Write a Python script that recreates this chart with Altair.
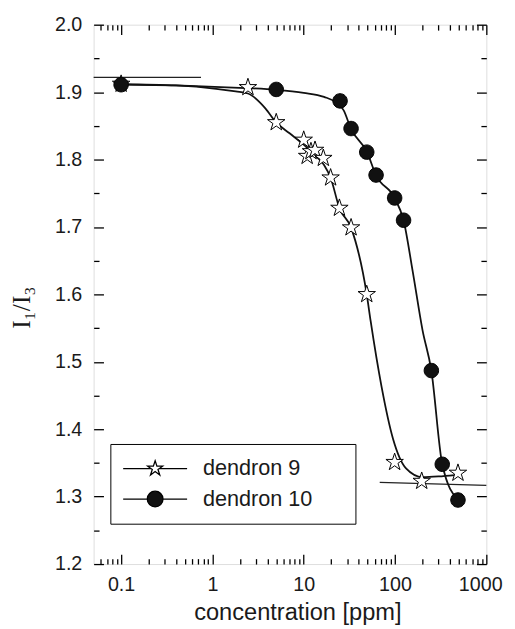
import altair as alt
import pandas as pd

# ---------------- data ----------------
SERIES = ["dendron 9", "dendron 10"]

# dendron 9 (open stars)
d9_conc = [0.1, 2.45, 5, 10, 10.9, 12, 13.3, 16.4, 19.7, 24.6, 33, 49, 99, 196, 489]
d9_ratio = [1.912, 1.907, 1.855, 1.829, 1.805, 1.812, 1.814, 1.802, 1.773, 1.728, 1.699, 1.600, 1.351, 1.323, 1.335]

# dendron 10 (filled circles)
d10_conc = [0.1, 5, 25, 33, 49, 62, 99, 124, 250, 329, 489]
d10_ratio = [1.911, 1.904, 1.887, 1.846, 1.811, 1.777, 1.743, 1.710, 1.487, 1.348, 1.295]

# fitted curves
c9_conc = [0.1, 0.4, 1.1, 1.8, 2.45, 3.8, 5, 7, 10, 13, 16.7, 19.7, 24.6, 33, 49, 54, 71, 95, 132, 200, 300, 450]
c9_ratio = [1.912, 1.910, 1.905, 1.901, 1.898, 1.876, 1.855, 1.839, 1.822, 1.807, 1.792, 1.773, 1.728, 1.699, 1.600,
            1.561, 1.464, 1.386, 1.342, 1.329, 1.330, 1.332]
c10_conc = [0.1, 0.66, 2.3, 5, 10, 16.7, 23, 27.4, 32.9, 49.4, 61.8, 99, 124, 156, 200, 250, 329, 489]
c10_ratio = [1.911, 1.909, 1.906, 1.9035, 1.899, 1.893, 1.884, 1.873, 1.8455, 1.811, 1.777, 1.743, 1.710, 1.6345,
             1.547, 1.487, 1.348, 1.295]

# horizontal tangent lines
tan_conc = [0.05, 0.75, 68, 1000]
tan_ratio = [1.922, 1.922, 1.3212, 1.3168]
tan_seg = ["top", "top", "bottom", "bottom"]

# axis ticks
Y_MAJOR = [1.2, 1.3, 1.4, 1.5, 1.6, 1.7, 1.8, 1.9, 2.0]
Y_ALL = [1.2, 1.25, 1.3, 1.35, 1.4, 1.45, 1.5, 1.55, 1.6, 1.65, 1.7, 1.75, 1.8, 1.85, 1.9, 1.95, 2.0]
X_MAJOR = [0.1, 1, 10, 100, 1000]
X_ALL = [0.06, 0.07, 0.08, 0.09, 0.1, 0.2, 0.3, 0.4, 0.5, 0.6, 0.7, 0.8, 0.9,
         1, 2, 3, 4, 5, 6, 7, 8, 9, 10, 20, 30, 40, 50, 60, 70, 80, 90,
         100, 200, 300, 400, 500, 600, 700, 800, 900, 1000]

# ---------------- tables ----------------
pts_df = pd.DataFrame({
    "conc": d9_conc + d10_conc,
    "ratio": d9_ratio + d10_ratio,
    "series": [SERIES[0]] * len(d9_conc) + [SERIES[1]] * len(d10_conc),
})
curve_df = pd.DataFrame({
    "conc": c9_conc + c10_conc,
    "ratio": c9_ratio + c10_ratio,
    "series": [SERIES[0]] * len(c9_conc) + [SERIES[1]] * len(c10_conc),
})
tan_df = pd.DataFrame({"conc": tan_conc, "ratio": tan_ratio, "seg": tan_seg})

# ---------------- styling ----------------
W, H = 399, 548
SANS = "Liberation Sans, Arial, Helvetica, sans-serif"
SERIF = "Liberation Serif, Times New Roman, serif"
INK = "#1a1a1a"

STAR = ("M0,-1L0.2245,-0.309L0.951,-0.309L0.3633,0.118L0.5878,0.809L0,0.382"
        "L-0.5878,0.809L-0.3633,0.118L-0.951,-0.309L-0.2245,-0.309Z")
CIRC = "M1,0A1,1,0,1,1,-1,0A1,1,0,1,1,1,0Z"
LEG_STAR = "M-4.06,0L-0.53,0M0.53,0L4.06,0" + STAR
LEG_CIRC = "M-4.06,0L-1,0M1,0L4.06,0" + CIRC

xs = alt.Scale(type="log", domain=[0.05, 1000], nice=False)
ys = alt.Scale(domain=[1.2, 2.0], nice=False, zero=False)

Y_MAJOR_TEST = "abs(datum.value*10 - round(datum.value*10)) < 0.001"
X_MAJOR_TEST = "abs(log(datum.value)/LN10 - round(log(datum.value)/LN10)) < 0.001"


def inward(orient, offset, values, test):
    return alt.Axis(orient=orient, offset=offset, values=values, labels=False, domain=False,
                    grid=False, title=None, tickColor="black", tickWidth=1.3,
                    tickSize={"condition": {"test": test, "value": 10}, "value": 5.5})


ax_y_lab = alt.Axis(orient="left", values=Y_MAJOR, format=".1f", ticks=False, tickSize=0,
                    domain=False, grid=False, labelPadding=12, labelFont=SANS, labelFontSize=20,
                    labelColor=INK, labelFlush=False, labelOverlap=False,
                    title="I₁/I₃", titleFont=SERIF, titleFontSize=26, titleFontWeight="normal",
                    titleColor=INK, titleAngle=-90, titleAlign="center", titleBaseline="alphabetic",
                    titleX=-65, titleY=287)
ax_x_lab = alt.Axis(orient="bottom", values=X_MAJOR, format="~g", ticks=False, tickSize=0,
                    domain=False, grid=False, labelPadding=11, labelFont=SANS, labelFontSize=20,
                    labelColor=INK, labelFlush=True, labelFlushOffset=16, labelOverlap=False,
                    title="concentration [ppm]", titleFont=SANS, titleFontSize=24,
                    titleFontWeight="normal", titleColor=INK, titleBaseline="alphabetic",
                    titleX=207, titleY=56)

tan = alt.Chart(tan_df).mark_line(color="#222", strokeWidth=1.2).encode(
    x=alt.X("conc:Q", scale=xs, axis=ax_x_lab),
    y=alt.Y("ratio:Q", scale=ys, axis=ax_y_lab),
    detail="seg:N",
)

curves = alt.Chart(curve_df).mark_line(color="#111", strokeWidth=1.8, interpolate="monotone").encode(
    x=alt.X("conc:Q", scale=xs, axis=inward("top", -H, X_ALL, X_MAJOR_TEST)),
    y=alt.Y("ratio:Q", scale=ys, axis=inward("right", -W, Y_ALL, Y_MAJOR_TEST)),
    detail="series:N",
)

points = alt.Chart(pts_df).mark_point(filled=True, stroke="black", strokeWidth=1.0, opacity=1).encode(
    x=alt.X("conc:Q", scale=xs, axis=inward("bottom", -H, X_ALL, X_MAJOR_TEST)),
    y=alt.Y("ratio:Q", scale=ys, axis=inward("left", -W, Y_ALL, Y_MAJOR_TEST)),
    shape=alt.Shape("series:N", scale=alt.Scale(domain=SERIES, range=[STAR, CIRC]), legend=None),
    fill=alt.Fill("series:N", scale=alt.Scale(domain=SERIES, range=["white", "#111"]), legend=None),
    size=alt.Size("series:N", scale=alt.Scale(domain=SERIES, range=[346, 216]), legend=None),
)

# trailing no-break spaces (kept by a zero-width space) widen the legend frame like the reference
leg = alt.Legend(title=None, orient="none", legendX=17, legendY=426, padding=14,
                 strokeColor="black", fillColor="white", rowPadding=9, symbolSize=256,
                 symbolOffset=20.5, labelOffset=37.5, labelFont=SANS, labelFontSize=22,
                 labelColor=INK, symbolStrokeColor="black", symbolStrokeWidth=1.3,
                 labelExpr="datum.label + '\u00a0\u00a0\u00a0\u00a0\u2009\u200b'")

legend_layer = alt.Chart(pts_df).mark_point(filled=True, strokeWidth=1.3, opacity=1).encode(
    shape=alt.Shape("series:N", scale=alt.Scale(domain=SERIES, range=[LEG_STAR, LEG_CIRC]), legend=leg),
    fill=alt.Fill("series:N", scale=alt.Scale(domain=SERIES, range=["white", "#111"]), legend=leg),
    stroke=alt.Stroke("series:N", scale=alt.Scale(domain=SERIES, range=["black", "black"]), legend=leg),
).transform_filter("false")

chart = (
    alt.layer(tan, curves, points, legend_layer)
    .resolve_scale(shape="independent", fill="independent", stroke="independent")
    .resolve_axis(x="independent", y="independent")
    .properties(width=W, height=H, autosize=alt.AutoSizeParams(type="none"),
                padding={"left": 87, "top": 12, "right": 21, "bottom": 61})
    .configure_view(stroke="black", strokeWidth=1.5)
    .configure(background="white")
)

chart.save("out.html", embed_options={"renderer": "svg", "actions": False})
